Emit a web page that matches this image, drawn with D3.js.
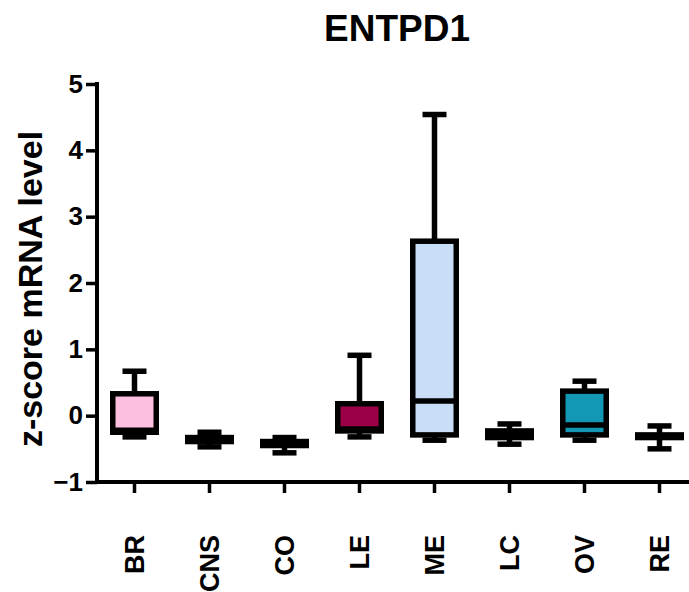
<!DOCTYPE html>
<html>
<head>
<meta charset="utf-8">
<script src="https://cdn.jsdelivr.net/npm/d3@7"></script>
<style>
  body { margin: 0; background: #fff; }
  svg text { font-family: "Liberation Sans", Arial, sans-serif; font-weight: bold; fill: #000; }
</style>
</head>
<body>
<svg id="chart" width="689" height="592"></svg>
<script>
// tumour types and box fills
const categories = ["BR", "CNS", "CO", "LE", "ME", "LC", "OV", "RE"];
const fills = ["#fdbfe0", "#000000", "#000000", "#9b0047", "#c8ddf6", "#000000", "#1297b4", "#000000"];

// five-number summaries
const whiskerMin = [-0.32, -0.47, -0.56, -0.32, -0.37, -0.43, -0.37, -0.50];
const q1 = [-0.25, -0.39, -0.45, -0.23, -0.29, -0.33, -0.29, -0.33];
const medians = [-0.22, -0.36, -0.42, -0.20, 0.22, -0.28, -0.14, -0.31];
const q3 = [0.33, -0.33, -0.39, 0.18, 2.63, -0.23, 0.37, -0.29];
const whiskerMax = [0.67, -0.25, -0.33, 0.91, 4.54, -0.125, 0.52, -0.155];

const yTicks = [-1, 0, 1, 2, 3, 4, 5];

const svg = d3.select("#chart");
const padLeft = 97, padTop = 84, axisY = 482;

const x = d3.scaleBand().domain(categories).range([padLeft, padLeft + 600]).padding(0);
const y = d3.scaleLinear().domain([-1, 5]).range([axisY, padTop]);

const bw = x.bandwidth();
const boxW = bw * 0.58;
const capW = bw * 0.32;
const sw = 5.5;

const rows = categories.map((c, i) => ({
  c, fill: fills[i], lo: whiskerMin[i], q1: q1[i], med: medians[i], q3: q3[i], hi: whiskerMax[i]
}));

// title
svg.append("text")
  .attr("x", padLeft + 300).attr("y", 41)
  .attr("text-anchor", "middle")
  .style("font-size", "37px")
  .text("ENTPD1");

// y axis label
svg.append("text")
  .attr("transform", "translate(42, 289) rotate(-90)")
  .attr("text-anchor", "middle")
  .style("font-size", "34px")
  .text("z-score mRNA level");

const g = svg.append("g");
const boxes = g.selectAll("g.box").data(rows).enter().append("g")
  .attr("transform", d => `translate(${x(d.c) + bw / 2},0)`);

// whisker stems
boxes.append("line")
  .attr("x1", 0).attr("x2", 0)
  .attr("y1", d => y(d.hi)).attr("y2", d => y(d.lo))
  .attr("stroke", "#000").attr("stroke-width", sw);

// caps
["lo", "hi"].forEach(k => {
  boxes.append("line")
    .attr("x1", -capW / 2).attr("x2", capW / 2)
    .attr("y1", d => y(d[k])).attr("y2", d => y(d[k]))
    .attr("stroke", "#000").attr("stroke-width", sw);
});

// box
boxes.append("rect")
  .attr("x", -boxW / 2).attr("width", boxW)
  .attr("y", d => y(d.q3))
  .attr("height", d => y(d.q1) - y(d.q3))
  .attr("fill", d => d.fill)
  .attr("stroke", "#000").attr("stroke-width", sw);

// median
boxes.append("line")
  .attr("x1", -boxW / 2).attr("x2", boxW / 2)
  .attr("y1", d => y(d.med)).attr("y2", d => y(d.med))
  .attr("stroke", "#000").attr("stroke-width", sw);

// axes
const yAxis = svg.append("g")
  .attr("transform", `translate(${padLeft},0)`)
  .call(d3.axisLeft(y).tickValues(yTicks).tickFormat(d3.format("d")).tickSize(11).tickSizeOuter(0).tickPadding(3));
yAxis.select(".domain").attr("stroke", "#000").attr("stroke-width", 4)
  .attr("d", `M0,${padTop - 2}V${axisY + 2}`);
yAxis.selectAll(".tick line").attr("stroke", "#000").attr("stroke-width", 3.5);
yAxis.selectAll(".tick text").style("font-size", "26px").attr("font-family", null);

const xAxis = svg.append("g")
  .attr("transform", `translate(0,${axisY})`)
  .call(d3.axisBottom(x).tickSize(11).tickSizeOuter(0));
xAxis.select(".domain").attr("stroke", "#000").attr("stroke-width", 4)
  .attr("d", `M${padLeft - 2},0H${padLeft + 600}`);
xAxis.selectAll(".tick line").attr("stroke", "#000").attr("stroke-width", 3.5);
xAxis.selectAll(".tick text")
  .style("font-size", "27px").attr("font-family", null)
  .attr("text-anchor", "end")
  .attr("dy", null)
  .attr("dominant-baseline", "central")
  .attr("transform", "translate(0,53) rotate(-90)")
  .attr("x", 0).attr("y", 0);
</script>
</body>
</html>
